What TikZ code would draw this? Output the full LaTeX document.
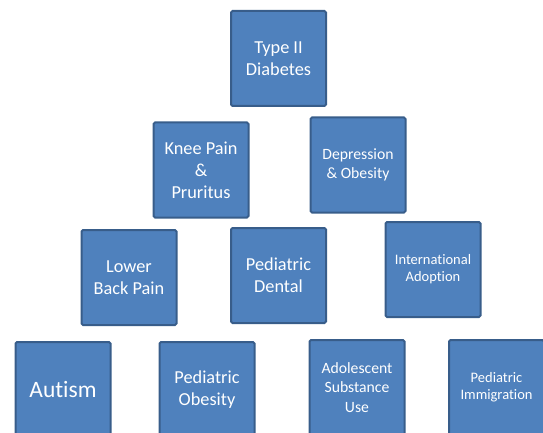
\documentclass[tikz,border=0pt]{standalone}
\usepackage{fontspec}
\setmainfont{Carlito}[Ligatures={NoCommon}]
\definecolor{boxfill}{HTML}{4F81BD}
\definecolor{boxline}{HTML}{385D8A}
\begin{document}
\begin{tikzpicture}[x=1pt,y=-1pt,
  topic/.style={draw=boxline, fill=boxfill, line width=2pt, rounded corners=1.5pt,
    minimum width=95pt, minimum height=95pt, inner sep=1pt, text=white, align=center},
  fA/.style={font=\fontsize{18.3}{22}\selectfont},
  fB/.style={font=\fontsize{15.7}{19.5}\selectfont},
  fC/.style={font=\fontsize{14.5}{17}\selectfont},
  fD/.style={font=\fontsize{23.5}{28}\selectfont}]
\useasboundingbox (0,0) rectangle (543,433);
\clip (0,0) rectangle (543,433);
\node[topic,fA] (t2) at (278.5,58.5) {Type II\\Diabetes};
\node[topic,fA] (knee) at (201,170) {Knee Pain\\\&\\Pruritus};
\node[topic,fB] (dep) at (358,165) {Depression\\\& Obesity};
\node[topic,fA] (lbp) at (129,277.5) {Lower\\Back Pain};
\node[topic,fA] (dent) at (278.5,275.5) {Pediatric\\Dental};
\node[topic,fC] (intl) at (433,269.5) {International\\Adoption};
\node[topic,fD] (aut) at (63,389.5) {Autism};
\node[topic,fA] (pob) at (207,389.5) {Pediatric\\Obesity};
\node[topic,fB] (ado) at (357,387.5) {Adolescent\\Substance\\Use};
\node[topic,fC] (imm) at (496.5,387.5) {Pediatric\\Immigration};
\end{tikzpicture}
\end{document}
